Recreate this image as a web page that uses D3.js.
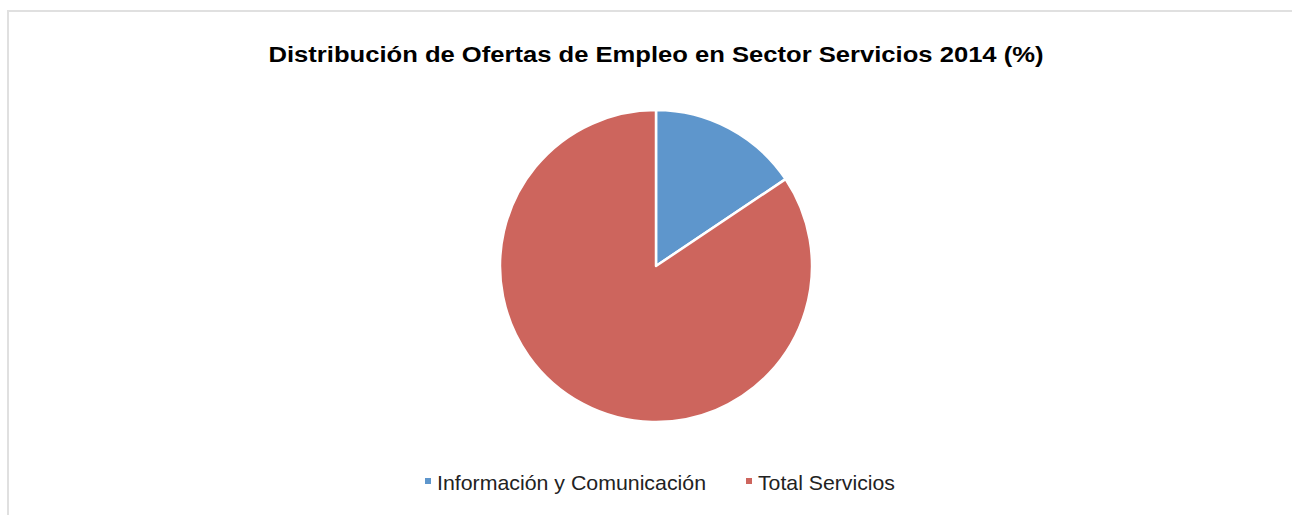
<!DOCTYPE html>
<html>
<head>
<meta charset="utf-8">
<script src="https://cdn.jsdelivr.net/npm/d3@7"></script>
<style>
  html, body { margin: 0; padding: 0; background: #fff; }
  svg { display: block; }
</style>
</head>
<body>
<svg id="chart" width="1292" height="515"></svg>
<script>
const title = "Distribución de Ofertas de Empleo en Sector Servicios 2014 (%)";
const categories = ["Información y Comunicación", "Total Servicios"];
const values = [15.6, 84.4];
const colors = ["#5e96cc", "#cd655d"];

const svg = d3.select("#chart");
const W = 1292, H = 515;

// outer frame
svg.append("rect")
  .attr("x", 8).attr("y", 11)
  .attr("width", W + 10).attr("height", H + 10)
  .attr("fill", "#fff")
  .attr("stroke", "#e0e0e0").attr("stroke-width", 2);

svg.append("text")
  .attr("x", 656).attr("y", 62)
  .attr("text-anchor", "middle")
  .attr("font-family", "Liberation Sans, Arial, sans-serif")
  .attr("font-weight", "bold")
  .attr("font-size", 22)
  .attr("textLength", 775)
  .attr("lengthAdjust", "spacingAndGlyphs")
  .attr("fill", "#000")
  .text(title);

const data = categories.map((c, i) => ({ name: c, value: values[i], color: colors[i] }));
const pie = d3.pie().value(d => d.value).sort(null);
const arc = d3.arc().innerRadius(0).outerRadius(156);

const g = svg.append("g").attr("transform", "translate(656,266)");
g.selectAll("path")
  .data(pie(data))
  .join("path")
  .attr("d", arc)
  .attr("fill", d => d.data.color)
  .attr("stroke", "#fff")
  .attr("stroke-width", 2.5)
  .attr("stroke-linejoin", "round");

// legend
const legend = svg.append("g");
const legendX = [425, 746];
const legendW = [269, 137];
data.forEach((d, i) => {
  const lg = legend.append("g").attr("transform", `translate(${legendX[i]},0)`);
  lg.append("rect")
    .attr("x", 0).attr("y", 478)
    .attr("width", 6).attr("height", 6)
    .attr("fill", d.color);
  lg.append("text")
    .attr("x", 12).attr("y", 490)
    .attr("font-family", "Liberation Sans, Arial, sans-serif")
    .attr("font-size", 21)
    .attr("textLength", legendW[i])
    .attr("lengthAdjust", "spacingAndGlyphs")
    .attr("fill", "#222")
    .text(d.name);
});
</script>
</body>
</html>
